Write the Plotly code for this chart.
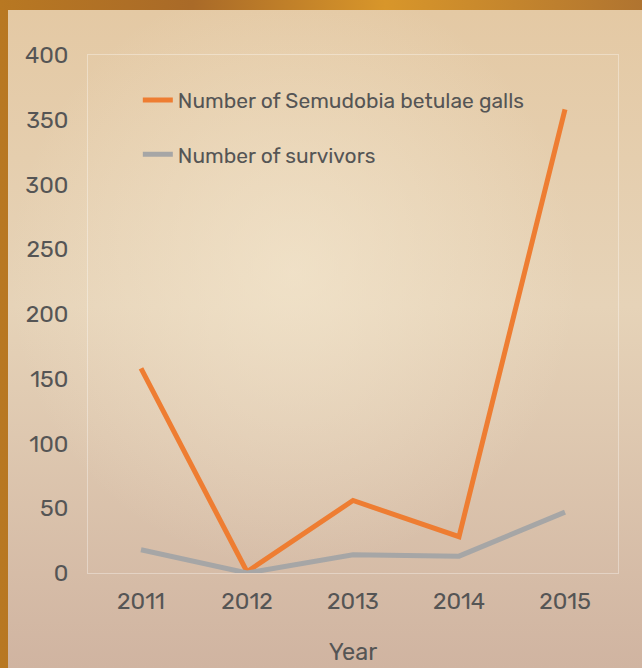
import plotly.graph_objects as go
import base64

years = ["2011", "2012", "2013", "2014", "2015"]
galls = [158, 1, 56, 28, 358]
survivors = [18, 0, 14, 13, 47]
y_ticks = [0, 50, 100, 150, 200, 250, 300, 350, 400]

svg = """<svg xmlns='http://www.w3.org/2000/svg' width='642' height='668' preserveAspectRatio='none'>
<defs>
<linearGradient id='o' x1='0' y1='0' x2='1' y2='0'>
<stop offset='0' stop-color='#b87822'/><stop offset='0.3' stop-color='#a96a28'/>
<stop offset='0.6' stop-color='#d8962a'/><stop offset='1' stop-color='#b07430'/>
</linearGradient>
<linearGradient id='p' x1='0' y1='0' x2='0' y2='1'>
<stop offset='0' stop-color='#e4c9a4'/><stop offset='0.45' stop-color='#e6d3b8'/>
<stop offset='1' stop-color='#d0b4a1'/>
</linearGradient>
<radialGradient id='g' cx='0.45' cy='0.4' r='0.45'>
<stop offset='0' stop-color='#f6ead2' stop-opacity='0.6'/><stop offset='1' stop-color='#f6ead2' stop-opacity='0'/>
</radialGradient>
</defs>
<rect width='642' height='668' fill='url(#o)'/>
<rect x='8' y='10' width='634' height='658' fill='url(#p)'/>
<rect x='8' y='10' width='634' height='658' fill='url(#g)'/>
</svg>"""
src = "data:image/svg+xml;base64," + base64.b64encode(svg.encode()).decode()

fig = go.Figure()
fig.add_trace(go.Scatter(x=years, y=galls, mode="lines", name="Number of Semudobia betulae galls",
                         line=dict(color="#ee7d32", width=5), legendgroup="a"))
fig.add_trace(go.Scatter(x=years, y=survivors, mode="lines", name="Number of survivors",
                         line=dict(color="#a6a6a6", width=5), legendgroup="b"))

font = "Rubik, 'DejaVu Sans', sans-serif"
fig.update_layout(
    width=642, height=668,
    margin=dict(l=88, r=24, t=55, b=95),
    paper_bgcolor="#d9bfa0",
    plot_bgcolor="rgba(248,240,228,0.88)",
    font=dict(family=font, color="#555555", size=23),
    images=[dict(source=src, xref="paper", yref="paper", x=-88/530, y=1+55/518,
                 sizex=642/530, sizey=668/518, xanchor="left", yanchor="top",
                 sizing="stretch", layer="below")],
    xaxis=dict(type="category", range=[-0.5, 4.5], showgrid=False, zeroline=False,
               automargin=False,
               showline=True, mirror=True, linecolor="rgba(255,255,255,0.35)", linewidth=1,
               ticks="outside", ticklen=7, tickcolor="rgba(0,0,0,0)",
               title=dict(text="Year", font=dict(size=23.5, color="#555555"), standoff=29),
               tickfont=dict(size=23)),
    yaxis=dict(range=[0, 400], tickvals=y_ticks, showgrid=False, zeroline=False,
               automargin=False,
               showline=True, mirror=True, linecolor="rgba(255,255,255,0.35)", linewidth=1,
               ticks="outside", ticklen=14, tickcolor="rgba(0,0,0,0)",
               tickfont=dict(size=23)),
    legend=dict(x=0.094, y=0.952, xanchor="left", yanchor="top", bgcolor="rgba(0,0,0,0)",
                font=dict(size=21, color="#555555"), tracegroupgap=24, itemwidth=30),
    showlegend=True,
)
fig.write_html("out.html", config={"displayModeBar": False},
               post_script="document.body.style.margin='0';document.body.style.padding='0';")
